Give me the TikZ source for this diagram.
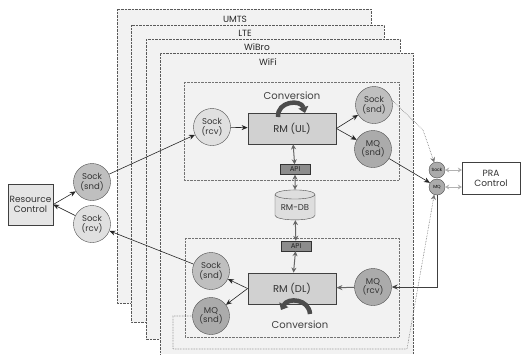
\documentclass[tikz,border=0pt]{standalone}
\usepackage{fontspec}
\setmainfont{Poppins}
\usetikzlibrary{shapes.geometric,arrows.meta,positioning,calc}

\begin{document}
\begin{tikzpicture}[
    x=1pt, y=-1pt,
    layer/.style={
        fill=black!5,
        draw=black!65,
        densely dotted
    },
    layerlabel/.style={
        font=\fontsize{9}{10}\selectfont,
        text=black!85
    },
    group/.style={
        draw=black!55,
        densely dotted
    },
    rm/.style={
        rectangle,
        draw=black!75,
        fill=black!18,
        line width=0.8pt,
        minimum width=88pt,
        minimum height=31pt,
        font=\fontsize{10}{11}\selectfont,
        text=black!80
    },
    api/.style={
        rectangle,
        draw=black!80,
        fill=black!45,
        minimum width=30pt,
        minimum height=10pt,
        inner sep=0pt,
        font=\fontsize{7}{7}\selectfont,
        text=black!85
    },
    db/.style={
        cylinder,
        shape border rotate=90,
        aspect=0.3,
        draw=black!70,
        fill=black!13,
        minimum width=40pt,
        minimum height=30pt,
        inner sep=1pt,
        font=\fontsize{8.5}{9}\selectfont,
        text=black!80
    },
    port/.style={
        circle,
        draw=black!70,
        minimum size=37pt,
        inner sep=0pt,
        align=center,
        font=\fontsize{8.5}{9.5}\selectfont,
        text=black!80
    },
    rcv/.style={port, fill=black!12},
    snd/.style={port, fill=black!25},
    mq/.style={port, fill=black!33},
    tinyport/.style={
        circle,
        draw=black!70,
        fill=black!33,
        minimum size=16pt,
        inner sep=0pt,
        font=\fontsize{4.5}{5}\selectfont
    },
    ctrl/.style={
        rectangle,
        draw=black!75,
        align=center,
        inner sep=0pt,
        font=\fontsize{9}{10}\selectfont,
        text=black!80
    },
    arrow/.style={
        -{Stealth[length=6pt, width=5pt]},
        black!85,
        line width=0.6pt
    },
    dbarrow/.style={
        {Stealth[length=5pt, width=5pt]}-{Stealth[length=5pt, width=5pt]},
        black!60,
        line width=1pt
    },
    lightarrow/.style={
        -{Stealth[length=5pt, width=5pt]},
        black!55,
        line width=0.6pt,
        densely dotted
    },
    pradouble/.style={
        {Stealth[length=4pt, width=5pt]}-{Stealth[length=4pt, width=5pt]},
        black!30,
        line width=1pt
    },
    conv/.style={
        -{Triangle[length=6pt, width=10pt]},
        line width=4.5pt,
        black!70
    },
    convlabel/.style={
        font=\fontsize{10}{12}\selectfont,
        text=black!75
    }
]
\useasboundingbox (0,0) rectangle (521,354);

% Access network layers
\draw[layer] (117,9) rectangle (371,303);
\draw[layer] (131,25) rectangle (384,322);
\draw[layer] (146,39) rectangle (400,339);
\fill[black!5] (160,53) rectangle (413,354);
\draw[layer] (160,354) -- (160,53) -- (413,53) -- (413,354);

\node[layerlabel] (umts) at (235,19) {UMTS};
\node[layerlabel] (lte) at (245,33) {LTE};
\node[layerlabel] (wibro) at (257,47) {WiBro};
\node[layerlabel] (wifi) at (268,62) {WiFi};

% Uplink and downlink groups
\draw[group] (184,82) rectangle (399,180);
\draw[group] (185,238) rectangle (399,337);

% Resource control side
\node[ctrl, fill=black!10, minimum width=45pt, minimum height=41pt] (rc) at (30.5,204.5) {Resource\\Control};
\node[snd] (rcsnd) at (92,182) {Sock\\(snd)};
\node[rcv] (rcrcv) at (92,224) {Sock\\(rcv)};

% Uplink
\node[rcv] (ulrcv) at (212,127) {Sock\\(rcv)};
\node[rm] (rmul) at (292,128.5) {RM (UL)};
\node[snd] (ulsnd) at (374,105) {Sock\\(snd)};
\node[mq] (ulmq) at (373,149) {MQ\\(snd)};
\node[api] (apiul) at (295,169.5) {API};
\node[convlabel] (convul) at (292,96) {Conversion};

% Database
\node[db] (rmdb) at (295,208) {RM-DB};

% Downlink
\node[api] (apidl) at (296,246) {API};
\node[rm] (rmdl) at (292,288.5) {RM (DL)};
\node[snd] (dlsnd) at (211,271) {Sock\\(snd)};
\node[mq] (dlmq) at (211,316) {MQ\\(snd)};
\node[mq] (dlmqr) at (373,287) {MQ\\(rcv)};
\node[convlabel] (convdl) at (300,325) {Conversion};

% PRA side
\node[tinyport] (psock) at (437,170) {Sock};
\node[tinyport] (pmq) at (437,187) {MQ};
\node[ctrl, minimum width=58pt, minimum height=32pt] (pra) at (491,178) {PRA\\Control};

% Conversion arrows
\draw[conv] (278,117) .. controls (277,101) and (301,99) .. (305,113);
\draw[conv] (310,314) .. controls (309,299) and (288,297) .. (281,310);

% Arrows
\draw[arrow] (rc.east) -- (rcsnd);
\draw[arrow] (rcrcv) -- (rc.east);
\draw[arrow] (rcsnd) -- (ulrcv);
\draw[arrow] (dlsnd) -- (rcrcv);
\draw[arrow] (ulrcv) -- (rmul);
\draw[arrow] (rmul.east) -- (ulsnd);
\draw[arrow] (rmul.east) -- (ulmq);
\draw[arrow] (rmdl.west) -- (dlsnd);
\draw[arrow] (rmdl.west) -- (dlmq);
\draw[arrow, black!60, line width=1pt] (dlmqr) -- (rmdl);
\draw[arrow] (ulmq) -- (pmq);
\draw[arrow, black!75, line width=0.8pt] (pmq.south) |- (dlmqr.east);

% API links
\draw[dbarrow] (rmul) -- (apiul);
\draw[dbarrow] (apiul) -- (rmdb);
\draw[dbarrow] (rmdb) -- (apidl);
\draw[dbarrow] (apidl) -- (rmdl);

% Links to PRA
\draw[lightarrow] (ulsnd.15) -- (423,130) -- (psock.110);
\draw[lightarrow] (dlmq.west) -- (173,316) -- (173,349) -- (407,349) -- (pmq.250);
\draw[pradouble] (psock.east) -- (psock.east -| pra.west);
\draw[pradouble] (pmq.east) -- (pmq.east -| pra.west);

\end{tikzpicture}
\end{document}
